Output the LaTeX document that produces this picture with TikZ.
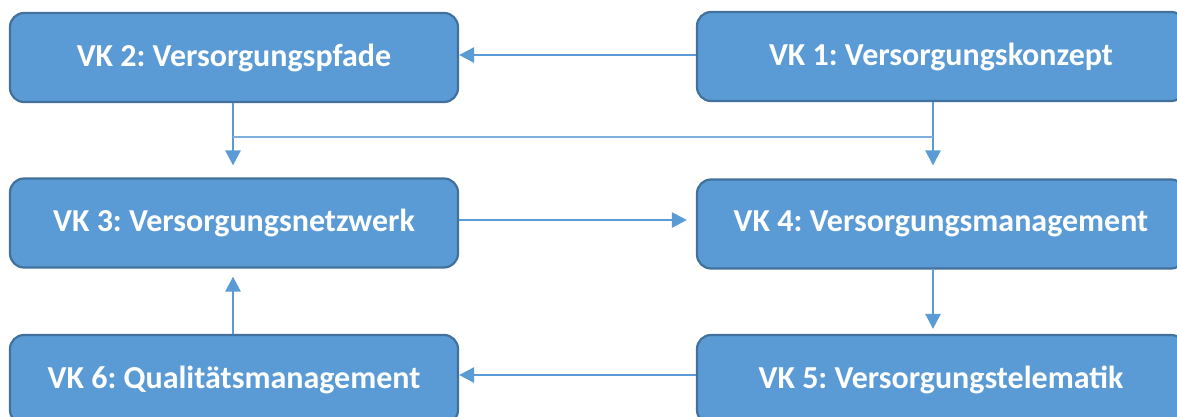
\documentclass[tikz,border=0pt]{standalone}
\usepackage{fontspec}
\setmainfont{Carlito}
\frenchspacing
\usetikzlibrary{arrows.meta}
\definecolor{boxfill}{HTML}{5B9BD5}
\definecolor{boxline}{HTML}{41719C}
\definecolor{linkline}{HTML}{5B9BD5}
\definecolor{thinline}{HTML}{7FAEDF}
\tikzset{
  vkbox/.style={draw=boxline, line width=2.2pt, fill=boxfill, rounded corners=14pt,
    text=white, font=\bfseries\fontsize{32}{36}\selectfont, inner sep=0pt,
    minimum height=89pt},
  leftbox/.style={vkbox, minimum width=448pt},
  rightbox/.style={vkbox, minimum width=488pt},
  link/.style={draw=linkline, line width=2.6pt, -{Triangle[length=15pt,width=15pt]}},
  crosslink/.style={draw=thinline, line width=1.4pt}
}
\begin{document}
\begin{tikzpicture}[x=1pt, y=-1pt]
  \useasboundingbox (0,0) rectangle (1177,417);
  \clip (0,0) rectangle (1177,417);

  % boxes
  \node[leftbox]  (vk2) at (234,57.5)  {VK 2: Versorgungspfade};
  \node[rightbox] (vk1) at (941,56.5)  {VK 1: Versorgungskonzept};
  \node[leftbox]  (vk3) at (234,223)   {VK 3: Versorgungsnetzwerk};
  \node[rightbox] (vk4) at (941,224)   {VK 4: Versorgungsmanagement};
  \node[leftbox]  (vk6) at (234,379.5) {VK 6: Qualitätsmanagement};
  \node[rightbox] (vk5) at (941,379.5) {VK 5: Versorgungstelematik};

  % junction points of the thin cross line
  \coordinate (jl) at (233,137);
  \coordinate (jr) at (933,137);

  % connectors
  \draw[link] ([yshift=1.5pt]vk1.west) -- ([yshift=1.5pt]vk1.west -| vk2.east);
  \draw[link] (vk2.south -| jl) -- ([yshift=12pt]vk3.north -| jl);
  \draw[link] (vk1.south -| jr) -- ([yshift=13pt]vk4.north -| jr);
  \draw[crosslink] (jl) -- (jr);
  \draw[link, shorten >=9pt] ([yshift=3pt]vk3.east) -- ([yshift=3pt]vk3.east -| vk4.west);
  \draw[link] (vk4.south -| jr) -- ([yshift=5pt]vk5.north -| jr);
  \draw[link] (vk6.north -| jl) -- ([yshift=-8pt]vk3.south -| jl);
  \draw[link] ([yshift=4.5pt]vk5.west) -- ([yshift=4.5pt]vk5.west -| vk6.east);
\end{tikzpicture}
\end{document}
